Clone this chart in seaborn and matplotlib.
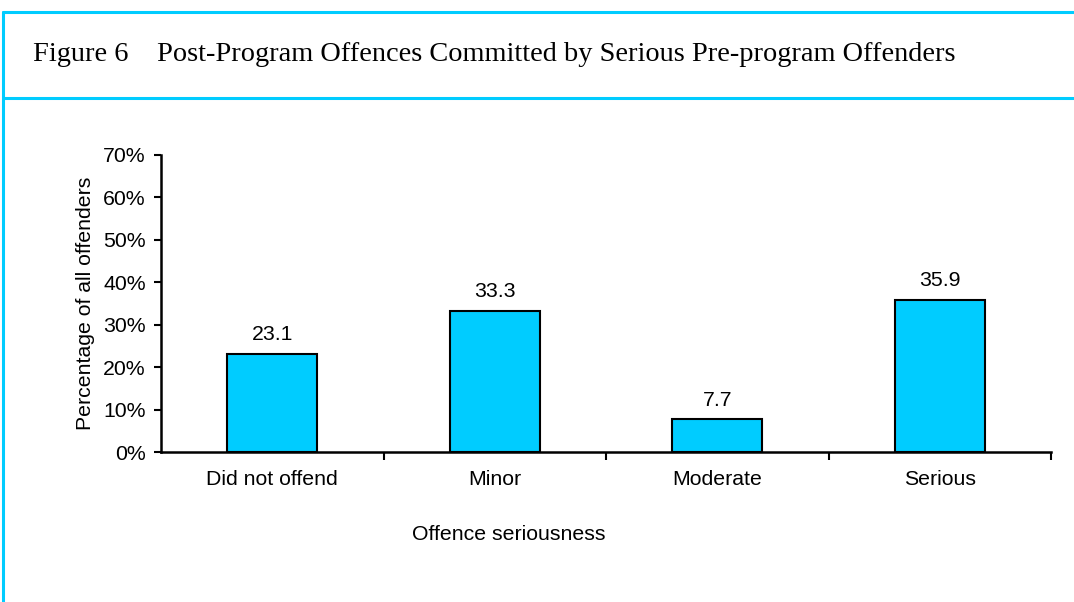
import matplotlib
matplotlib.use("Agg")
import matplotlib.pyplot as plt
from matplotlib.lines import Line2D
import seaborn as sns
import pandas as pd

categories = ["Did not offend", "Minor", "Moderate", "Serious"]
values = [23.1, 33.3, 7.7, 35.9]
y_ticks = [0, 10, 20, 30, 40, 50, 60, 70]
y_tick_labels = ["0%", "10%", "20%", "30%", "40%", "50%", "60%", "70%"]

sns.set_style("white")
plt.rcParams["font.family"] = ["Liberation Sans", "DejaVu Sans"]
plt.rcParams["text.color"] = "black"
plt.rcParams["axes.labelcolor"] = "black"
plt.rcParams["xtick.color"] = "black"
plt.rcParams["ytick.color"] = "black"

FS = 15.3
W, H = 1074, 602
fig = plt.figure(figsize=(W / 100, H / 100), dpi=100)
ax = fig.add_axes([161 / W, 1 - 452 / H, (1051 - 161) / W, (452 - 155) / H])

df = pd.DataFrame({"cat": categories, "val": values})
sns.barplot(data=df, x="cat", y="val", ax=ax, color="#00CCFF", saturation=1,
            width=0.405, edgecolor="black", linewidth=1.5)

for i, v in enumerate(values):
    ax.text(i, v + 2.3, f"{v:.1f}", ha="center", va="bottom", fontsize=FS)

ax.set_xlim(-0.5, 3.5)
ax.set_ylim(0, 70)
ax.set_yticks(y_ticks)
ax.set_yticklabels(y_tick_labels, fontsize=FS)
ax.set_xticks(range(len(categories)))
ax.set_xticklabels(categories, fontsize=FS)
ax.set_xticks([0.5, 1.5, 2.5, 3.5], minor=True)
ax.tick_params(axis="x", which="major", length=0, pad=13, bottom=True)
ax.tick_params(axis="x", which="minor", length=6, width=1.5, color="black", direction="out", bottom=True)
ax.tick_params(axis="y", which="major", length=5, width=1.5, color="black", direction="out", left=True, pad=6)
ax.set_xlabel("")
ax.set_ylabel("Percentage of all offenders", fontsize=FS)
ax.yaxis.set_label_coords((95 - 161) / (1051 - 161), 0.5)
for s in ["top", "right"]:
    ax.spines[s].set_visible(False)
for s in ["left", "bottom"]:
    ax.spines[s].set_color("black")
    ax.spines[s].set_linewidth(1.8)

fig.text(509 / W, 1 - 534 / H, "Offence seriousness", ha="center", va="center", fontsize=FS)

fig.text(33 / W, 1 - 61 / H, "Figure 6    Post-Program Offences Committed by Serious Pre-program Offenders",
         ha="left", va="baseline", fontsize=20.4, family=["Liberation Serif", "DejaVu Serif"])

cyan = "#00CCFF"
fig.add_artist(Line2D([3 / W, 1], [1 - 12 / H, 1 - 12 / H], color=cyan, lw=2.2, transform=fig.transFigure))
fig.add_artist(Line2D([3 / W, 1], [1 - 98 / H, 1 - 98 / H], color=cyan, lw=2.2, transform=fig.transFigure))
fig.add_artist(Line2D([3 / W, 3 / W], [0, 1 - 12 / H], color=cyan, lw=2.2, transform=fig.transFigure))

fig.savefig("out.png", dpi=100)
